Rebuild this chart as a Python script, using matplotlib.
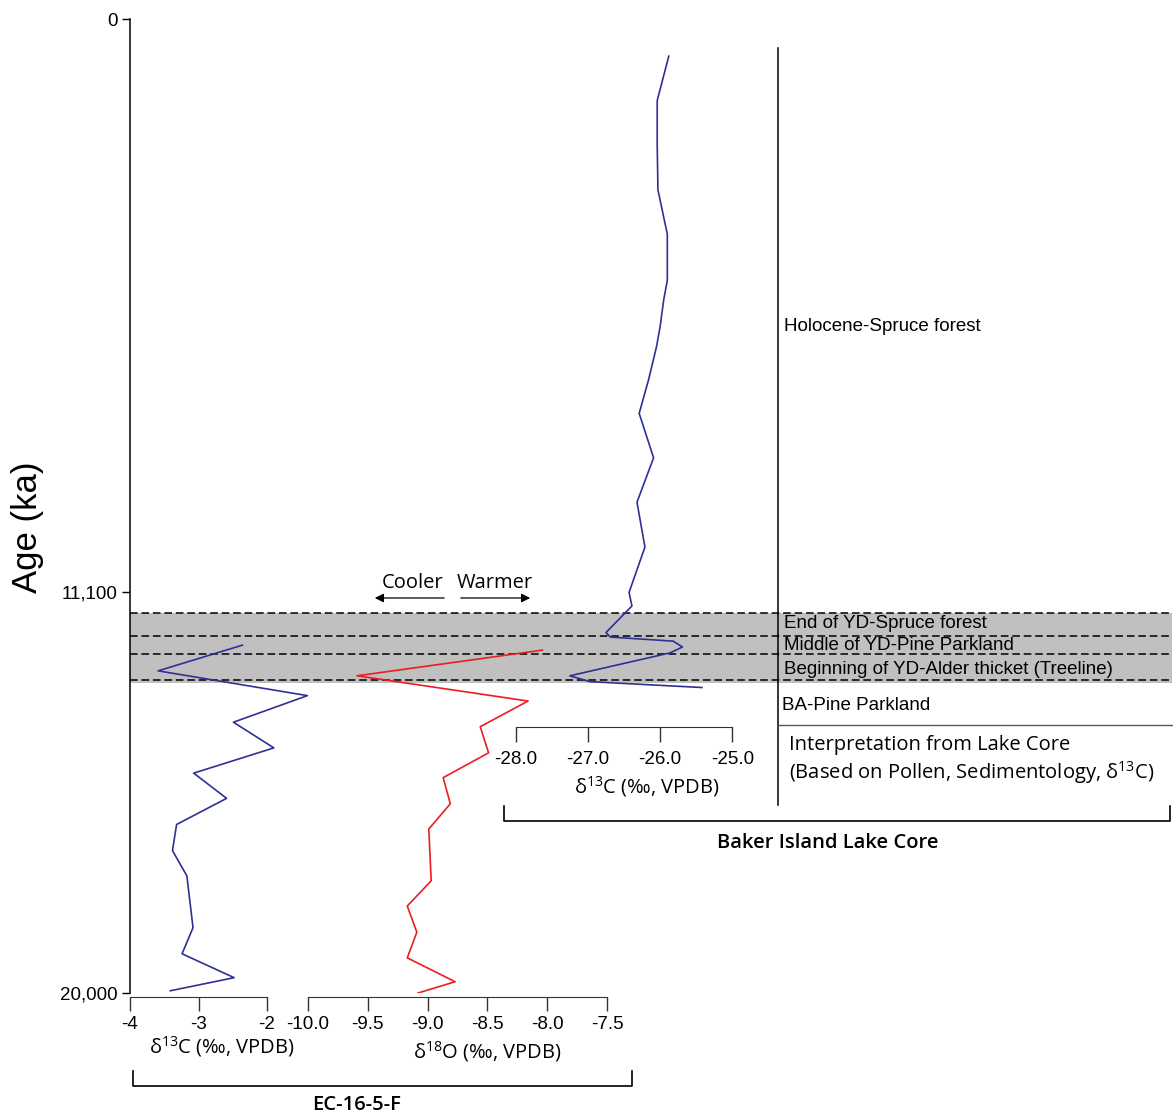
import numpy as np
import matplotlib.pyplot as plt
from matplotlib.lines import Line2D
from matplotlib.patches import FancyArrowPatch

W, H = 1173, 1120

# EC-16-5-F speleothem record
ec_age = [12280, 12850, 13400, 13990, 14560, 15120, 15680, 16260, 16840, 17400,
          18550, 19130, 19660, 19950]
ec_c13 = [-2.36, -3.59, -1.41, -2.49, -1.90, -3.07, -2.59, -3.32, -3.38, -3.17,
          -3.08, -3.24, -2.48, -3.41]
ec_o18_age = [12390, 12960, 13520, 14090, 14670, 15220, 15800, 16360, 17510, 18070,
              18650, 19220, 19750, 20000]
ec_o18 = [-8.04, -9.59, -8.16, -8.56, -8.49, -8.87, -8.81, -8.99, -8.97, -9.17,
          -9.09, -9.17, -8.77, -9.08]

# Baker Island Lake core
lake_age = [720, 1580, 2440, 3310, 4170, 5060, 5440, 5960, 6350, 6990, 7640, 8500,
            9360, 10230, 11110, 11410, 12000, 12100, 12190, 12320, 12450, 12960,
            13090, 13220]
lake_c13 = [-25.88, -26.04, -26.04, -26.03, -25.90, -25.90, -25.95, -26.00, -26.05,
            -26.16, -26.29, -26.09, -26.32, -26.21, -26.43, -26.39, -26.75, -26.69,
            -25.82, -25.69, -25.86, -27.25, -26.97, -25.42]

# Younger Dryas zones (boundaries) and interpretation labels
zone_bounds = [11560, 12070, 12480, 13050]
zone_names = ["End of YD-Spruce forest", "Middle of YD-Pine Parkland",
              "Beginning of YD-Alder thicket (Treeline)"]

age_ticks = [0, 11100, 20000]
age_labels = ["0", "11,100", "20,000"]
ec_c13_ticks = [-4, -3, -2]
ec_o18_ticks = [-10.0, -9.5, -9.0, -8.5, -8.0, -7.5]
lake_ticks = [-28.0, -27.0, -26.0, -25.0]

# the age axis in the figure is schematic: two linear pieces
age_nodes = np.array([-20000, 0, 11100, 20000, 40000])
pos_nodes = np.array([-20000 * 0.5883 / 11100, 0, 0.5883, 1,
                      1 + 20000 * 0.4117 / 8900])


def age_fwd(a):
    return np.interp(a, age_nodes, pos_nodes)


def age_inv(p):
    return np.interp(p, pos_nodes, age_nodes)


def fx(px):
    return px / W


def fy(py):
    return 1 - py / H


plt.rcParams['font.family'] = ['Liberation Sans', 'DejaVu Sans']
plt.rcParams['mathtext.fontset'] = 'custom'
plt.rcParams['mathtext.rm'] = 'Open Sans'
myriad = ['Open Sans', 'DejaVu Sans']
blue = '#2e3192'
red = '#ed1c24'

fig = plt.figure(figsize=(W / 100, H / 100), dpi=100)
L, R, T, B = 130, 1172, 19, 993
ax = fig.add_axes([fx(L), fy(B), (R - L) / W, (B - T) / H])
ax.set_yscale('function', functions=(age_fwd, age_inv))
ax.set_ylim(20000, 0)
ax.set_xlim(0, 1)
ax.set_xticks([])
ax.set_yticks(age_ticks, age_labels)
ax.tick_params(axis='y', length=6, width=1, labelsize=13.5, pad=3)
for s in ['top', 'right', 'bottom']:
    ax.spines[s].set_visible(False)
ax.spines['left'].set_linewidth(1.1)

ax.axhspan(zone_bounds[0], zone_bounds[-1] + 60, color='#c0c0c0', lw=0, zorder=0)
for b in zone_bounds:
    ax.axhline(b, color='k', lw=1.1, ls=(0, (5, 2.5)), zorder=1)


def twin(v0, p0, v1, p1, ticks, spine_pos, ticklen, pad):
    t = ax.twiny()
    k = (v1 - v0) / (p1 - p0)
    t.set_xlim(v0 + (L - p0) * k, v0 + (R - p0) * k)
    t.xaxis.set_ticks_position('bottom')
    for s in ['top', 'right', 'left']:
        t.spines[s].set_visible(False)
    t.spines['bottom'].set_position(spine_pos)
    t.spines['bottom'].set_bounds(ticks[0], ticks[-1])
    t.spines['bottom'].set_color('#333333')
    t.set_xticks(ticks, [f"{v:.1f}" if isinstance(v, float) else str(v) for v in ticks])
    t.tick_params(axis='x', direction='out', length=ticklen, width=1, color='#333333',
                  labelsize=13.5, pad=pad)
    return t


t1 = twin(-4, 130, -2, 267, ec_c13_ticks, ('outward', 3), 10, 3.5)
t1.plot(ec_c13, ec_age, color=blue, lw=1.2)
t2 = twin(-10, 308, -7.5, 607, ec_o18_ticks, ('outward', 3), 10, 3.5)
t2.plot(ec_o18, ec_o18_age, color=red, lw=1.2)
t3 = twin(-28, 515.7, -25, 732.3, lake_ticks, ('axes', (B - 727) / (B - T)), 11, 6)
t3.plot(lake_c13, lake_age, color=blue, lw=1.2)

# axis titles
fig.text(fx(28), fy(527), "Age (ka)", rotation=90, fontsize=25, ha='center', va='center')
fig.text(fx(222), fy(1047), r"δ$^{\mathrm{13}}$C (‰, VPDB)", family=myriad, fontsize=14.5,
         ha='center', va='center')
fig.text(fx(487), fy(1052), r"δ$^{\mathrm{18}}$O (‰, VPDB)", family=myriad, fontsize=14.5,
         ha='center', va='center')
fig.text(fx(647), fy(787), r"δ$^{\mathrm{13}}$C (‰, VPDB)", family=myriad, fontsize=14.5,
         ha='center', va='center')

# interpretation column
fig.add_artist(Line2D([fx(778)] * 2, [fy(48), fy(805)], color='k', lw=1.1))
fig.add_artist(Line2D([fx(778), fx(1172)], [fy(725)] * 2, color='#555555', lw=1))
fig.text(fx(784), fy(326), "Holocene-Spruce forest", fontsize=13.5, va='center')
zone_y = [623, 645, 669]
for name, yy in zip(zone_names, zone_y):
    fig.text(fx(784), fy(yy), name, fontsize=13.5, va='center')
fig.text(fx(782), fy(705), "BA-Pine Parkland", fontsize=13.5, va='center')
fig.text(fx(789), fy(745), "Interpretation from Lake Core", family=myriad, fontsize=14.5,
         va='center')
fig.text(fx(789), fy(773), r"(Based on Pollen, Sedimentology, δ$^{\mathrm{13}}$C)",
         family=myriad, fontsize=14.5, va='center')

# Cooler / Warmer
fig.text(fx(413), fy(583), "Cooler", family=myriad, fontsize=14.5, ha='center', va='center')
fig.text(fx(495), fy(583), "Warmer", family=myriad, fontsize=14.5, ha='center', va='center')
for a, b in [((447, 598), (372, 598)), ((458, 598), (533, 598))]:
    fig.add_artist(FancyArrowPatch((fx(a[0]), fy(a[1])), (fx(b[0]), fy(b[1])),
                                   transform=fig.transFigure, arrowstyle='-|>',
                                   mutation_scale=13, color='k', lw=0.9))


# brackets
def bracket(x0, x1, ytop, ybot, label, xlab, ylab):
    fig.add_artist(Line2D([fx(x0), fx(x0), fx(x1), fx(x1)],
                          [fy(ytop), fy(ybot), fy(ybot), fy(ytop)], color='k', lw=1.2))
    fig.text(fx(xlab), fy(ylab), label, family=myriad, fontsize=14.5,
             fontweight='semibold', ha='center', va='center')


bracket(504, 1170, 806, 821, "Baker Island Lake Core", 828, 843)
bracket(133, 632, 1071, 1086, "EC-16-5-F", 357, 1105)

fig.savefig("out.png", dpi=100)
